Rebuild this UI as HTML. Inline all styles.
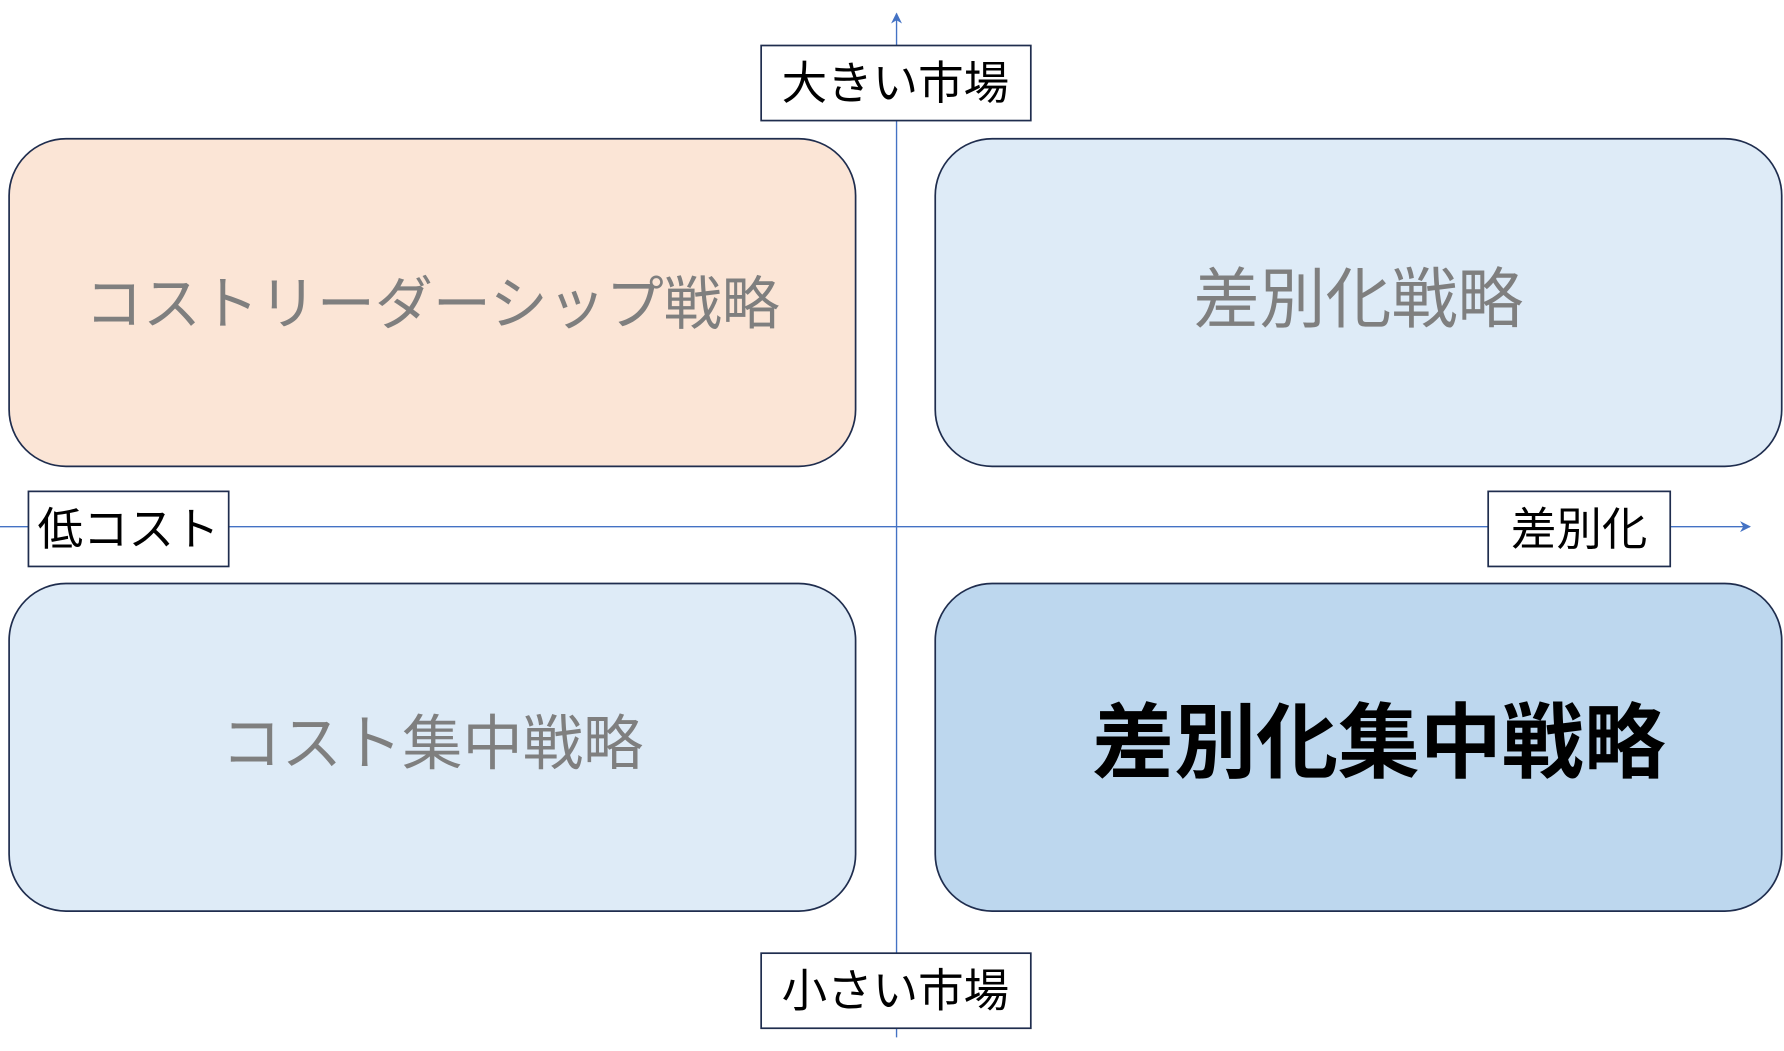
<!DOCTYPE html>
<html><head><meta charset="utf-8"><style>
html,body{margin:0;padding:0;background:#fff;}
svg{display:block;}
text{font-family:"Liberation Sans","Noto Sans CJK JP",sans-serif;}
</style></head><body>
<svg width="1784" height="1051" viewBox="0 0 1568 924" preserveAspectRatio="none" xmlns="http://www.w3.org/2000/svg">
<defs>
<marker id="ar" viewBox="0 0 10 10" refX="9" refY="5" markerWidth="8" markerHeight="8" orient="auto"><path d="M0,0 L10,5 L0,10 L3,5 z" fill="#4472c4"/></marker>
</defs>
<line x1="788" y1="912" x2="788" y2="12" stroke="#4472c4" stroke-width="1.2" marker-end="url(#ar)"/>
<line x1="0" y1="463" x2="1538" y2="463" stroke="#4472c4" stroke-width="1.2" marker-end="url(#ar)"/>
<rect x="8" y="122" width="744" height="288" rx="50" fill="#fbe5d6" stroke="#1f2d4e" stroke-width="1.5"/>
<rect x="822" y="122" width="744" height="288" rx="50" fill="#deebf7" stroke="#1f2d4e" stroke-width="1.5"/>
<rect x="8" y="513" width="744" height="288" rx="50" fill="#deebf7" stroke="#1f2d4e" stroke-width="1.5"/>
<rect x="822" y="513" width="744" height="288" rx="50" fill="#bdd7ee" stroke="#1f2d4e" stroke-width="1.5"/>
<text x="380" y="285" font-size="51" fill="#7f7f7f" text-anchor="middle">コストリーダーシップ戦略</text>
<text x="1194" y="283" font-size="58" fill="#7f7f7f" text-anchor="middle">差別化戦略</text>
<text x="380" y="672" font-size="53" fill="#7f7f7f" text-anchor="middle">コスト集中戦略</text>
<text x="1212" y="678" font-size="72" font-weight="bold" fill="#000" text-anchor="middle">差別化集中戦略</text>
<rect x="669" y="40" width="237" height="66" fill="#fff" stroke="#1f2d4e" stroke-width="1.5"/>
<text x="787" y="87" font-size="40" text-anchor="middle">大きい市場</text>
<rect x="669" y="838" width="237" height="66" fill="#fff" stroke="#1f2d4e" stroke-width="1.5"/>
<text x="787" y="885" font-size="40" text-anchor="middle">小さい市場</text>
<rect x="25" y="432" width="176" height="66" fill="#fff" stroke="#1f2d4e" stroke-width="1.5"/>
<text x="113" y="479" font-size="40" text-anchor="middle">低コスト</text>
<rect x="1308" y="432" width="160" height="66" fill="#fff" stroke="#1f2d4e" stroke-width="1.5"/>
<text x="1388" y="479" font-size="40" text-anchor="middle">差別化</text>
</svg>
</body></html>
